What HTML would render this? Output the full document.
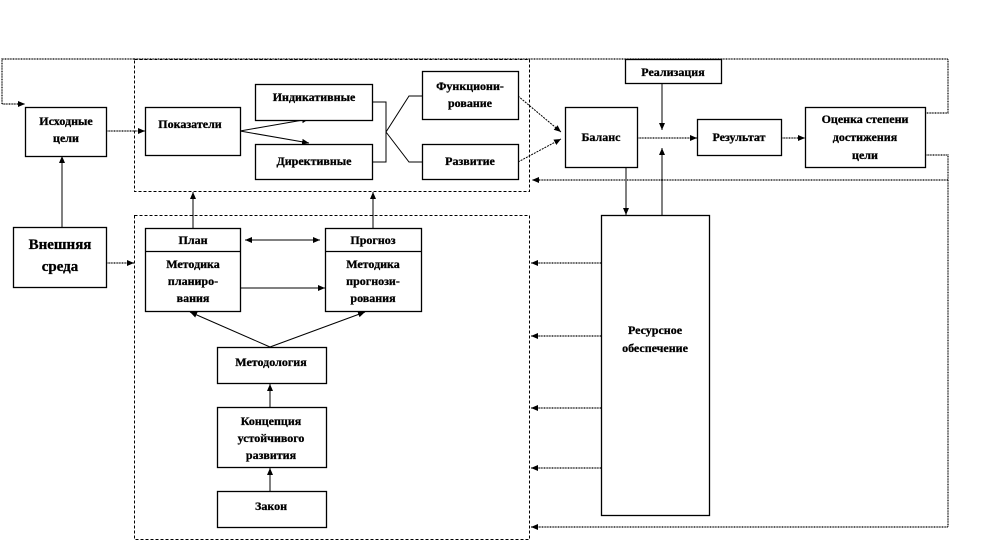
<!DOCTYPE html>
<html><head><meta charset="utf-8"><style>
body{margin:0;background:#fff;width:985px;height:541px;overflow:hidden}
svg{display:block}
text{font-family:"Liberation Serif",serif;font-weight:bold;font-size:12px;fill:#000;text-anchor:middle;stroke:#000;stroke-width:0.3}
rect.b{fill:#fff;stroke:#000;stroke-width:1.3}
</style></head><body>
<svg width="985" height="541" viewBox="0 0 985 541">
<defs><marker id="a" markerWidth="8" markerHeight="8" refX="7" refY="4" orient="auto" markerUnits="userSpaceOnUse"><path d="M0,1 L7,4 L0,7z" fill="#000"/></marker></defs>
<g fill="none" stroke="#000">
<rect x="134.5" y="59.5" width="395" height="132" stroke-dasharray="3,2"/>
<rect x="134.5" y="215.5" width="395" height="324" stroke-dasharray="3,2"/>
<g stroke-dasharray="1,0.6" stroke-width="1.2">
<path d="M134,59 H948 V113 H925"/>
<path d="M134,59 H2 V104 H25" marker-end="url(#a)"/>
<path d="M925,155 H948 V527 H531" marker-end="url(#a)"/>
<path d="M948,180 H532" marker-end="url(#a)"/>
<path d="M106,131 H145" marker-end="url(#a)"/>
<path d="M106,263 H134" marker-end="url(#a)"/>
<path d="M637,138 H697" marker-end="url(#a)"/>
<path d="M781,138 H805" marker-end="url(#a)"/>
<path d="M601,263 H531" marker-end="url(#a)"/>
<path d="M601,336 H531" marker-end="url(#a)"/>
<path d="M601,408 H531" marker-end="url(#a)"/>
<path d="M601,468 H531" marker-end="url(#a)"/>
</g>
<path d="M62,227 V156" marker-end="url(#a)"/>
<path d="M240,131 L309,119" marker-end="url(#a)"/>
<path d="M240,131 L309,143" marker-end="url(#a)"/>
<path d="M372,102 H386 V162 H372 M386,132 L409,96 H422 M386,132 L409,162 H422" />
<path d="M518,96 L561,132" stroke-dasharray="2,1" marker-end="url(#a)"/>
<path d="M518,162 L561,139" stroke-dasharray="2,1" marker-end="url(#a)"/>
<path d="M662,83 V130" marker-end="url(#a)"/>
<path d="M662,215 V148" marker-end="url(#a)"/>
<path d="M626,167 V215" marker-end="url(#a)"/>
<path d="M193,228 V192" marker-end="url(#a)"/>
<path d="M373,228 V192" marker-end="url(#a)"/>
<path d="M245,240 H320" marker-end="url(#a)"/>
<path d="M320,240 H245" marker-end="url(#a)"/>
<path d="M240,288 H325" marker-end="url(#a)"/>
<path d="M270,347 L190,312" marker-end="url(#a)"/>
<path d="M270,347 L365,312" marker-end="url(#a)"/>
<path d="M270,407 V384" marker-end="url(#a)"/>
<path d="M270,491 V468" marker-end="url(#a)"/>
</g>
<rect class="b" x="25.5" y="107.5" width="81" height="49"/>
<rect class="b" x="13.5" y="227.5" width="93" height="60"/>
<rect class="b" x="145.5" y="107.5" width="95" height="48"/>
<rect class="b" x="255.5" y="84.5" width="117" height="36"/>
<rect class="b" x="255.5" y="144.5" width="117" height="35"/>
<rect class="b" x="422.5" y="71.5" width="96" height="48"/>
<rect class="b" x="422.5" y="144.5" width="96" height="35"/>
<rect class="b" x="565.5" y="107.5" width="72" height="60"/>
<rect class="b" x="625.5" y="59.5" width="96" height="24"/>
<rect class="b" x="697.5" y="119.5" width="84" height="36"/>
<rect class="b" x="805.5" y="107.5" width="120" height="60"/>
<rect class="b" x="601.5" y="215.5" width="108" height="300"/>
<rect class="b" x="145.5" y="228.5" width="95" height="83"/>
<line x1="145" y1="251.5" x2="240" y2="251.5" stroke="#000" stroke-width="1.3"/>
<rect class="b" x="325.5" y="228.5" width="96" height="83"/>
<line x1="325" y1="251.5" x2="421" y2="251.5" stroke="#000" stroke-width="1.3"/>
<rect class="b" x="217.5" y="347.5" width="109" height="36"/>
<rect class="b" x="217.5" y="407.5" width="109" height="60"/>
<rect class="b" x="217.5" y="491.5" width="109" height="36"/>
<text x="66" y="125">Исходные</text><text x="66" y="142">цели</text>
<text x="60" y="249" style="font-size:15px">Внешняя</text><text x="60" y="271" style="font-size:15px">среда</text>
<text x="190" y="128">Показатели</text>
<text x="314" y="101">Индикативные</text>
<text x="314" y="165">Директивные</text>
<text x="470" y="90">Функциони-</text><text x="470" y="107">рование</text>
<text x="470" y="165">Развитие</text>
<text x="601" y="141">Баланс</text>
<text x="673" y="76">Реализация</text>
<text x="739" y="141">Результат</text>
<text x="865" y="123">Оценка степени</text><text x="865" y="141">достижения</text><text x="865" y="159">цели</text>
<text x="655" y="334">Ресурсное</text><text x="655" y="352">обеспечение</text>
<text x="193" y="244">План</text>
<text x="193" y="268">Методика</text><text x="193" y="285">планиро-</text><text x="193" y="302">вания</text>
<text x="373" y="244">Прогноз</text>
<text x="373" y="268">Методика</text><text x="373" y="285">прогнози-</text><text x="373" y="302">рования</text>
<text x="271" y="366">Методология</text>
<text x="271" y="425">Концепция</text><text x="271" y="442">устойчивого</text><text x="271" y="459">развития</text>
<text x="271" y="510">Закон</text>
</svg>
</body></html>
